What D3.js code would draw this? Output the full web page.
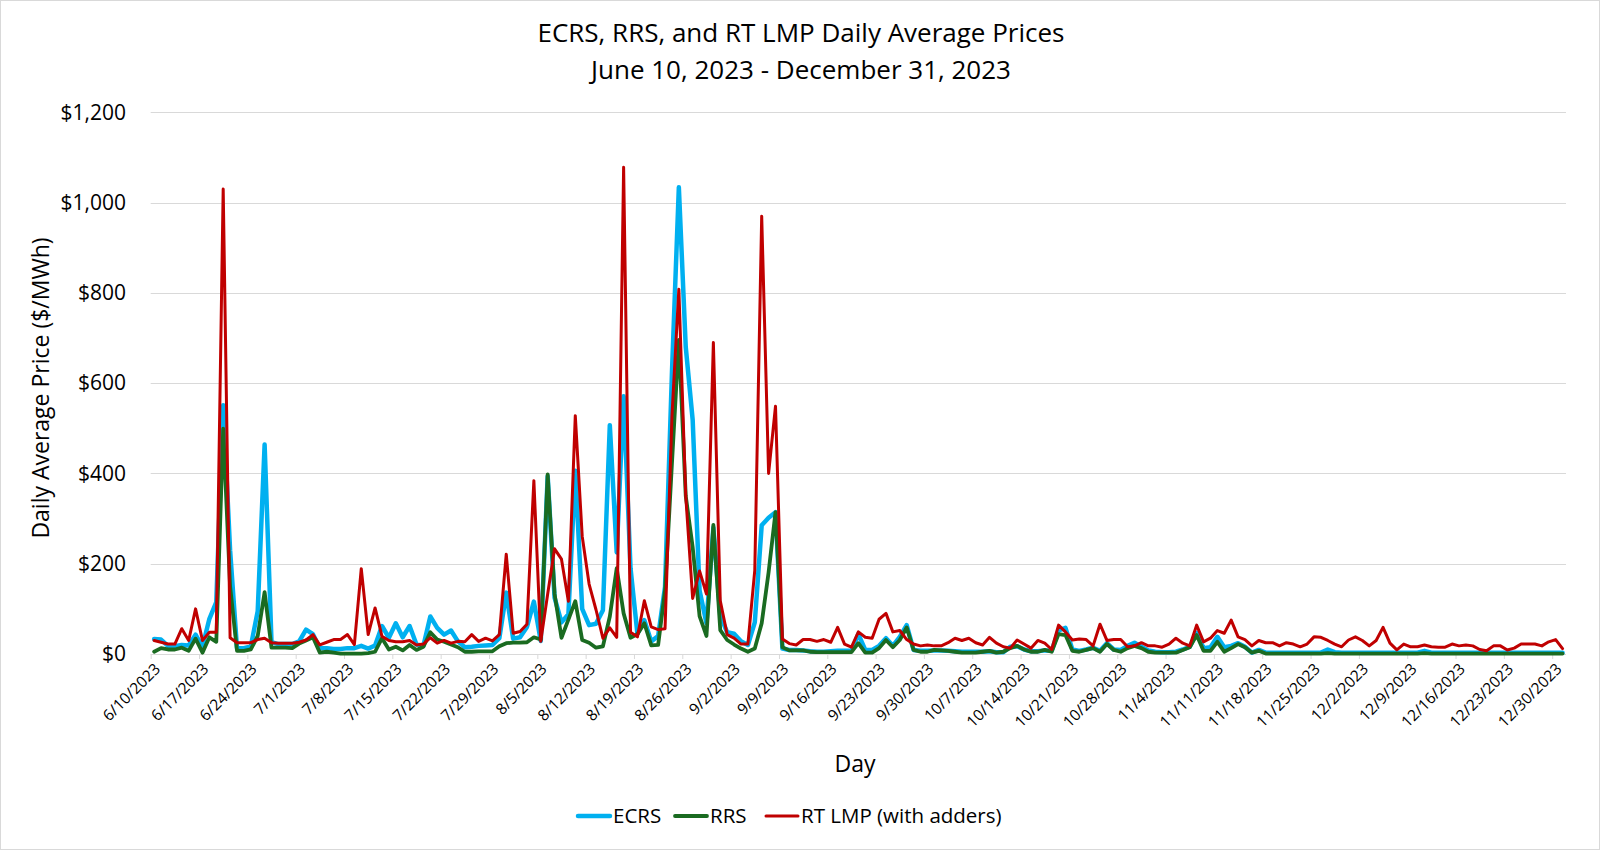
<!DOCTYPE html>
<html><head><meta charset="utf-8">
<script src="https://cdn.jsdelivr.net/npm/d3@7"></script>
<style>
body{margin:0;background:#fff}
svg{display:block}
text{font-family:"Open Sans",sans-serif;fill:#000}
</style>
</head><body>
<svg id="chart" width="1600" height="850"></svg>
<script>
// ---------- data ----------
const startDate = "2023-06-10";
const endDate = "2024-01-01"; // exclusive end of the last day slot
const titleLines = ["ECRS, RRS, and RT LMP Daily Average Prices", "June 10, 2023 - December 31, 2023"];
const yTicks = [0, 200, 400, 600, 800, 1000, 1200];
const seriesNames = ["ECRS", "RRS", "RT LMP (with adders)"];

const ecrs = [
33,32,18,17,20,19,43,16,78,115,
551,230,13,13,17,95,464,26,22,22,
22,28,54,44,13,13,11,11,13,13,
18,12,19,62,36,68,37,62,21,18,
83,58,43,52,28,15,16,18,19,20,
35,136,34,37,60,116,29,394,125,70,
88,406,100,64,67,97,507,225,571,190,
45,75,28,40,149,623,1034,680,519,141,
68,280,85,48,45,28,20,70,285,302,
314,12,9,9,8,6,5,5,6,7,
7,7,44,9,9,18,35,18,38,64,
9,7,7,8,8,7,6,5,5,5,
5,6,4,4,16,17,10,6,6,8,
7,52,58,10,7,10,14,7,24,10,
9,18,25,16,8,5,4,4,5,10,
16,47,13,15,38,15,18,24,16,3,
9,3,3,3,3,3,3,3,3,3,
10,4,3,3,3,3,3,3,3,3,
3,3,3,3,7,3,3,3,3,3,
3,3,3,3,3,3,3,3,3,3,
3,3,3,3,3
];
const rrs = [
5,13,10,10,14,7,34,3,37,27,
499,150,7,7,10,40,137,14,14,14,
13,23,30,37,3,5,3,1,1,1,
1,2,5,35,10,16,8,20,9,16,
48,32,27,21,15,5,5,6,6,6,
17,24,25,25,26,37,32,398,133,36,
76,117,31,25,14,17,83,190,90,36,
44,68,19,20,141,422,696,350,237,84,
40,286,53,31,21,12,5,12,68,181,
314,15,8,8,8,5,4,4,4,4,
4,4,24,3,3,13,31,15,31,59,
9,5,5,9,8,7,5,3,3,3,
5,7,3,5,13,18,10,5,5,9,
5,44,42,7,5,9,13,5,22,9,
5,13,18,13,5,3,3,3,3,9,
15,42,7,7,27,5,13,22,15,3,
7,1,1,1,1,1,1,1,1,1,
2,1,1,1,1,1,1,1,1,1,
1,1,1,1,2,1,1,1,1,1,
1,1,1,1,1,1,1,1,1,1,
1,1,1,1,1
];
const rtLmp = [
30,26,22,22,56,30,100,30,48,48,
1030,36,25,25,25,32,35,25,24,24,
24,26,31,43,20,26,32,32,43,21,
189,43,102,39,30,27,27,30,20,22,
36,24,30,24,28,27,43,28,35,29,
43,221,46,50,66,384,28,133,233,210,
117,528,261,155,98,35,58,37,1078,48,
38,118,60,54,56,527,808,350,123,184,
133,690,118,43,35,22,22,186,970,400,
549,33,23,20,32,32,28,32,26,59,
22,15,49,37,35,77,90,49,52,32,
22,18,20,18,18,25,35,30,35,25,
20,37,24,16,13,31,22,13,30,24,
10,64,49,31,33,32,18,66,30,32,
32,16,18,25,18,18,15,22,35,24,
18,64,27,35,52,46,75,38,32,18,
30,25,25,18,25,22,16,22,38,37,
30,22,16,31,38,30,18,30,59,24,
9,22,16,16,20,16,15,15,22,18,
20,18,10,7,18,18,9,13,22,22,
22,18,27,32,12
];

// ---------- layout ----------
const W = 1600, H = 850;
const plot = {left: 150.7, right: 1566, top: 112.3, bottom: 654};
const colors = {ECRS: "#00B0F0", RRS: "#1A6B21", RT: "#C00000"};

const svg = d3.select("#chart");
svg.append("rect").attr("x", 0.5).attr("y", 0.5).attr("width", W - 1).attr("height", H - 1)
  .attr("fill", "#fff").attr("stroke", "#d9d9d9");

const parse = d3.utcParse("%Y-%m-%d");
const t0 = parse(startDate), t1 = parse(endDate);
const dates = d3.utcDay.range(t0, t1);
const x = d3.scaleUtc().domain([t0, t1]).range([plot.left, plot.right]);
const y = d3.scaleLinear().domain([0, 1200]).range([plot.bottom, plot.top]);
const mid = d => d3.utcHour.offset(d, 12);

// gridlines
svg.append("g").selectAll("line").data(yTicks.filter(v => v > 0)).join("line")
  .attr("x1", plot.left).attr("x2", plot.right)
  .attr("y1", d => Math.round(y(d)) + 0.5).attr("y2", d => Math.round(y(d)) + 0.5)
  .attr("stroke", "#d9d9d9").attr("stroke-width", 1);

// y axis labels
const yAxis = d3.axisLeft(y).tickValues(yTicks).tickFormat(d3.format("$,")).tickSize(0).tickPadding(0);
const gy = svg.append("g").attr("transform", `translate(126,0)`).call(yAxis);
gy.select(".domain").remove();
gy.selectAll("text").attr("font-family", '"Open Sans",sans-serif').attr("font-size", 21).attr("fill", "#000");

// x axis
const tickDates = d3.utcDay.range(t0, parse("2023-12-31"), 7);
const xAxis = d3.axisBottom(x).tickValues(tickDates).tickFormat(d3.utcFormat("%-m/%-d/%Y")).tickSize(5).tickSizeOuter(0);
const gx = svg.append("g").attr("transform", `translate(0,${plot.bottom})`).call(xAxis);
gx.select(".domain").attr("stroke", "#d9d9d9").attr("d", `M${plot.left},0.5H${plot.right}`);
gx.selectAll(".tick line").attr("stroke", "#d9d9d9");
gx.selectAll(".tick text")
  .attr("font-family", '"Open Sans",sans-serif').attr("font-size", 15.5).attr("fill", "#000")
  .attr("text-anchor", "end").attr("y", 0).attr("dy", 0)
  .attr("transform", "translate(10,16) rotate(-45)");

// lines
const line = arr => d3.line().x((d, i) => x(mid(dates[i]))).y(d => y(d)).curve(d3.curveLinear)(arr);
const series = [
  {name: seriesNames[0], data: ecrs, color: colors.ECRS, width: 4.5},
  {name: seriesNames[1], data: rrs, color: colors.RRS, width: 3.8},
  {name: seriesNames[2], data: rtLmp, color: colors.RT, width: 3}
];
svg.append("g").selectAll("path").data(series).join("path")
  .attr("d", s => line(s.data))
  .attr("fill", "none").attr("stroke", s => s.color).attr("stroke-width", s => s.width)
  .attr("stroke-linejoin", "round").attr("stroke-linecap", "round");

// titles
svg.append("text").attr("x", 801).attr("y", 42).attr("text-anchor", "middle").attr("font-size", 26).text(titleLines[0]);
svg.append("text").attr("x", 801).attr("y", 79).attr("text-anchor", "middle").attr("font-size", 26).text(titleLines[1]);
svg.append("text").attr("transform", `translate(49,388) rotate(-90)`).attr("text-anchor", "middle").attr("font-size", 23)
  .text("Daily Average Price ($/MWh)");
svg.append("text").attr("x", 855).attr("y", 772).attr("text-anchor", "middle").attr("font-size", 23).text("Day");

// legend
const legendX = [578, 675, 766];
const lg = svg.append("g").selectAll("g").data(series).join("g")
  .attr("transform", (d, i) => `translate(${legendX[i]},816)`);
lg.append("line").attr("x1", 0).attr("x2", 32).attr("y1", 0).attr("y2", 0)
  .attr("stroke", d => d.color).attr("stroke-width", d => d.width).attr("stroke-linecap", "round");
lg.append("text").attr("x", 35).attr("y", 0).attr("dy", "0.35em").attr("font-size", 20.5).text(d => d.name);
</script>
</body></html>
